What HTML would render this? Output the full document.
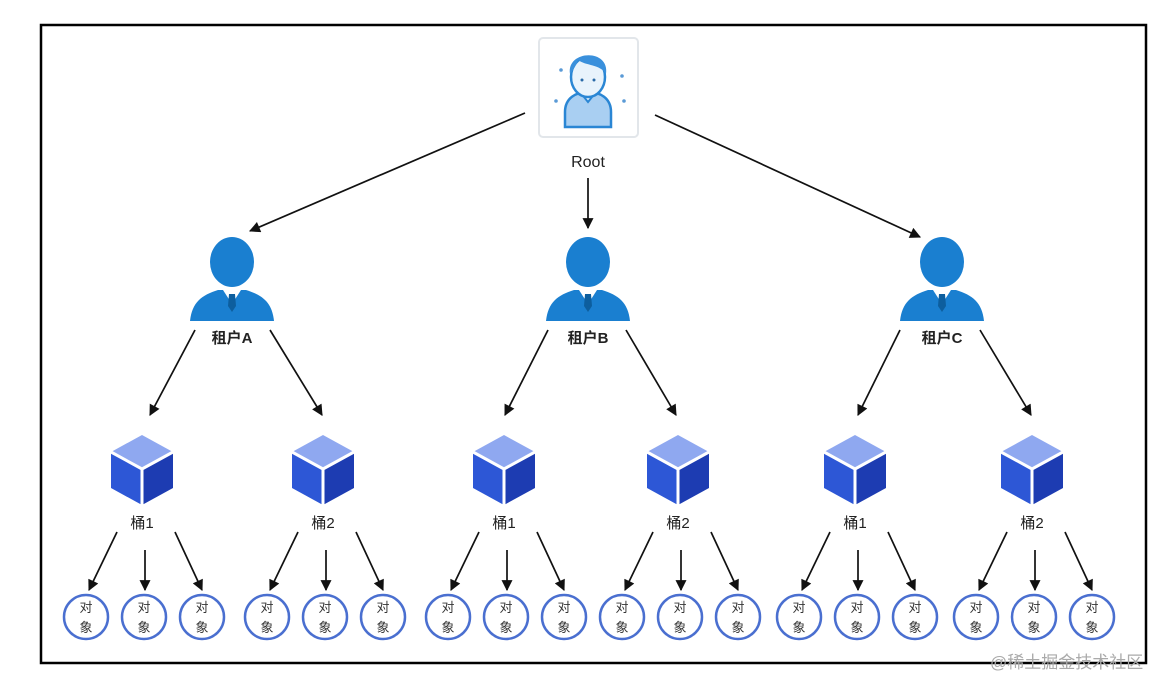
<!DOCTYPE html>
<html><head><meta charset="utf-8"><style>
html,body{margin:0;padding:0;background:#fff;}
svg{display:block;}
text{font-family:"Liberation Sans","Noto Sans CJK SC",sans-serif;}
</style></head><body>
<svg width="1170" height="690" viewBox="0 0 1170 690" xmlns="http://www.w3.org/2000/svg">
<defs>
<marker id="ah" viewBox="0 0 10 10" refX="9" refY="5" markerWidth="12" markerHeight="11" orient="auto" markerUnits="userSpaceOnUse">
<path d="M0,0 L10,5 L0,10 z" fill="#111"/>
</marker>
<g id="tenant">
<ellipse cx="0" cy="0" rx="22" ry="25" fill="#1a7fd0"/>
<path d="M-42,59 C-40,40 -30,33 -14,28 L14,28 C30,33 40,40 42,59 Z" fill="#1a7fd0"/>
<path d="M-9,28 L0,42 L9,28 Z" fill="#fff"/>
<path d="M-3,32 L3,32 L4,44 L0,50 L-4,44 Z" fill="#0d5e9e"/>
</g>
<g id="cube">
<path d="M0,0 L31,17 L0,34 L-31,17 Z" fill="#8fa8f0"/>
<path d="M-31,17 L0,34 L0,70 L-31,53 Z" fill="#2d57d6"/>
<path d="M31,17 L0,34 L0,70 L31,53 Z" fill="#1d3cb2"/>
<path d="M-31,17 L0,34 L31,17 M0,34 L0,70" stroke="#fff" stroke-width="3" fill="none"/>
</g>
<g id="obj">
<circle cx="0" cy="0" r="22" fill="#fff" stroke="#4a6fd0" stroke-width="2.5"/>
<text x="0" y="-5" font-size="13" text-anchor="middle" fill="#333">对</text>
<text x="0" y="15" font-size="13" text-anchor="middle" fill="#333">象</text>
</g>
<g id="fan" stroke="#111" stroke-width="1.7" marker-end="url(#ah)">
<line x1="-25" y1="532" x2="-53" y2="590"/>
<line x1="3" y1="550" x2="3" y2="590"/>
<line x1="33" y1="532" x2="60" y2="590"/>
</g>
</defs>
<rect x="41" y="25" width="1105" height="638" fill="none" stroke="#000" stroke-width="2.5"/>

<!-- root -->
<rect x="539" y="38" width="99" height="99" rx="4" fill="#fff" stroke="#e2e6ea" stroke-width="2"/>
<path d="M565,127 L565,112 C565,98 576,92 588,92 C600,92 611,98 611,112 L611,127 Z" fill="#a9cff2" stroke="#2a86d4" stroke-width="2.5"/>
<path d="M580,92 L588,102 L596,92" fill="#e8f3fc" stroke="#2a86d4" stroke-width="2"/>
<ellipse cx="588" cy="77" rx="17" ry="20" fill="#e8f3fc" stroke="#2a86d4" stroke-width="2.5"/>
<path d="M570,74 C566,50 610,48 606,74 C600,64 586,66 578,60 C576,66 573,70 570,74Z" fill="#3a90dc"/>
<circle cx="582" cy="80" r="1.5" fill="#2a6aa8"/><circle cx="594" cy="80" r="1.5" fill="#2a6aa8"/>
<circle cx="561" cy="70" r="1.8" fill="#5a9ad6"/><circle cx="622" cy="76" r="1.8" fill="#5a9ad6"/>
<circle cx="556" cy="101" r="1.8" fill="#5a9ad6"/><circle cx="624" cy="101" r="1.8" fill="#5a9ad6"/>
<text x="588" y="167" font-size="16" text-anchor="middle" fill="#222" font-family="Liberation Serif,serif">Root</text>

<g stroke="#111" stroke-width="1.7" marker-end="url(#ah)">
<line x1="588" y1="178" x2="588" y2="228"/>
<line x1="525" y1="113" x2="250" y2="231"/>
<line x1="655" y1="115" x2="920" y2="237"/>
<line x1="195" y1="330" x2="150" y2="415"/>
<line x1="270" y1="330" x2="322" y2="415"/>
<line x1="548" y1="330" x2="505" y2="415"/>
<line x1="626" y1="330" x2="676" y2="415"/>
<line x1="900" y1="330" x2="858" y2="415"/>
<line x1="980" y1="330" x2="1031" y2="415"/>
</g>

<use href="#tenant" x="232" y="262"/>
<use href="#tenant" x="588" y="262"/>
<use href="#tenant" x="942" y="262"/>
<text x="232" y="343" font-size="15" font-weight="bold" text-anchor="middle" fill="#222">租户A</text>
<text x="588" y="343" font-size="15" font-weight="bold" text-anchor="middle" fill="#222">租户B</text>
<text x="942" y="343" font-size="15" font-weight="bold" text-anchor="middle" fill="#222">租户C</text>

<g>
<use href="#cube" x="142" y="435"/><use href="#cube" x="323" y="435"/><use href="#cube" x="504" y="435"/>
<use href="#cube" x="678" y="435"/><use href="#cube" x="855" y="435"/><use href="#cube" x="1032" y="435"/>
</g>
<g font-size="15" text-anchor="middle" fill="#222">
<text x="142" y="528">桶1</text><text x="323" y="528">桶2</text><text x="504" y="528">桶1</text>
<text x="678" y="528">桶2</text><text x="855" y="528">桶1</text><text x="1032" y="528">桶2</text>
</g>

<use href="#fan" x="142"/><use href="#fan" x="323"/><use href="#fan" x="504"/>
<use href="#fan" x="678"/><use href="#fan" x="855"/><use href="#fan" x="1032"/>

<use href="#obj" x="86" y="617"/><use href="#obj" x="144" y="617"/><use href="#obj" x="202" y="617"/>
<use href="#obj" x="267" y="617"/><use href="#obj" x="325" y="617"/><use href="#obj" x="383" y="617"/>
<use href="#obj" x="448" y="617"/><use href="#obj" x="506" y="617"/><use href="#obj" x="564" y="617"/>
<use href="#obj" x="622" y="617"/><use href="#obj" x="680" y="617"/><use href="#obj" x="738" y="617"/>
<use href="#obj" x="799" y="617"/><use href="#obj" x="857" y="617"/><use href="#obj" x="915" y="617"/>
<use href="#obj" x="976" y="617"/><use href="#obj" x="1034" y="617"/><use href="#obj" x="1092" y="617"/>

<text x="990" y="668" font-size="17" fill="#aaa">@稀土掘金技术社区</text>
</svg>
</body></html>
